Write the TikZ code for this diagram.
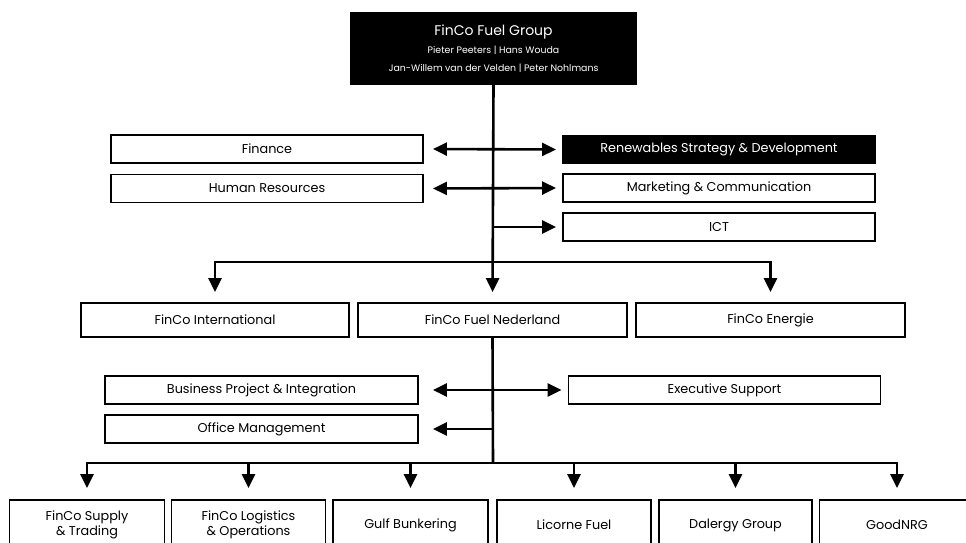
\documentclass[tikz,border=0pt]{standalone}
\usepackage{fontspec}
\setmainfont{Poppins}
\usetikzlibrary{arrows.meta}

\tikzset{
 unit/.style={draw,line width=1.9pt,inner sep=0pt,align=center,font=\fontsize{12.8}{15}\selectfont},
 darkunit/.style={unit,fill=black,text=white},
 link/.style={line width=2.6pt,-{Triangle[length=14pt,width=13pt]}},
 twolink/.style={line width=2.6pt,{Triangle[length=14pt,width=13pt]}-{Triangle[length=14pt,width=13pt]}}
}

\begin{document}
\begin{tikzpicture}[x=1pt,y=-1pt]
 \clip (0,0) rectangle (966,542);
 % top
 \node[darkunit,minimum width=285pt,minimum height=71pt] (group) at (493.5,48.5)
  {{\fontsize{14}{16}\selectfont FinCo Fuel Group}\\[3pt]
   {\fontsize{9.4}{14}\selectfont Pieter Peeters | Hans Wouda}\\[3pt]
   {\fontsize{9.4}{14}\selectfont Jan-Willem van der Velden | Peter Nohlmans}};
 % staff group
 \node[unit,minimum width=312pt,minimum height=28pt] (fin) at (267,149) {Finance};
 \node[unit,minimum width=312pt,minimum height=28pt] (hr) at (267,188.5) {Human Resources};
 \node[darkunit,minimum width=312pt,minimum height=27pt] (ren) at (719,149.5) {Renewables Strategy \& Development};
 \node[unit,minimum width=312pt,minimum height=28pt] (mc) at (719,188) {Marketing \& Communication};
 \node[unit,minimum width=312pt,minimum height=28pt] (ict) at (719,227) {ICT};
 % divisions
 \node[unit,minimum width=268pt,minimum height=34pt] (intl) at (215,320) {FinCo International};
 \node[unit,minimum width=269pt,minimum height=34pt] (ned) at (492.5,320) {FinCo Fuel Nederland};
 \node[unit,minimum width=269pt,minimum height=34pt] (ene) at (770.5,320) {FinCo Energie};
 % staff nederland
 \node[unit,minimum width=313pt,minimum height=28pt] (bpi) at (261.5,390) {Business Project \& Integration};
 \node[unit,minimum width=313pt,minimum height=28pt] (om) at (261.5,429) {Office Management};
 \node[unit,minimum width=312pt,minimum height=28pt] (exe) at (724.5,390) {Executive Support};
 % companies
 \node[unit,minimum width=155pt,minimum height=50pt] (c1) at (87,525) {FinCo Supply\\\& Trading};
 \node[unit,minimum width=154pt,minimum height=50pt] (c2) at (248.5,525) {FinCo Logistics\\\& Operations};
 \node[unit,minimum width=155pt,minimum height=50pt] (c3) at (410.5,525) {Gulf Bunkering};
 \node[unit,minimum width=154pt,minimum height=50pt] (c4) at (574,525) {Licorne Fuel};
 \node[unit,minimum width=153pt,minimum height=50pt] (c5) at (735.5,525) {Dalergy Group};
 \node[unit,minimum width=155pt,minimum height=50pt] (c6) at (897,525) {GoodNRG};

 \coordinate (ictpt) at (493,227);
 \coordinate (split) at (493,262);
 \coordinate (ompt) at (493,429);
 \coordinate (bus) at (493,463);

 \draw[link,shorten >=10pt] (group.south) -- (ned.north);
 \draw[twolink,shorten <=9pt,shorten >=6pt] (fin.east) -- (ren.west);
 \draw[twolink,shorten <=9pt,shorten >=6pt] (hr.east) -- (mc.west);
 \draw[link,shorten >=6pt] (ictpt) -- (ict.west);
 \draw[link,shorten >=10pt] (split) -| (intl.north);
 \draw[link,shorten >=10pt] (split) -| (ene.north);
 \draw[twolink,shorten <=14pt,shorten >=6pt] (bpi.east) -- (exe.west);
 \draw[link,shorten >=14pt] (ompt) -- (om.east);
 \draw[line width=2.6pt] (ned.south) -- (bus);
 \foreach \c in {c1,c2,c3,c4,c5,c6}
  \draw[link,shorten >=11pt] (bus) -| (\c.north);
\end{tikzpicture}
\end{document}
